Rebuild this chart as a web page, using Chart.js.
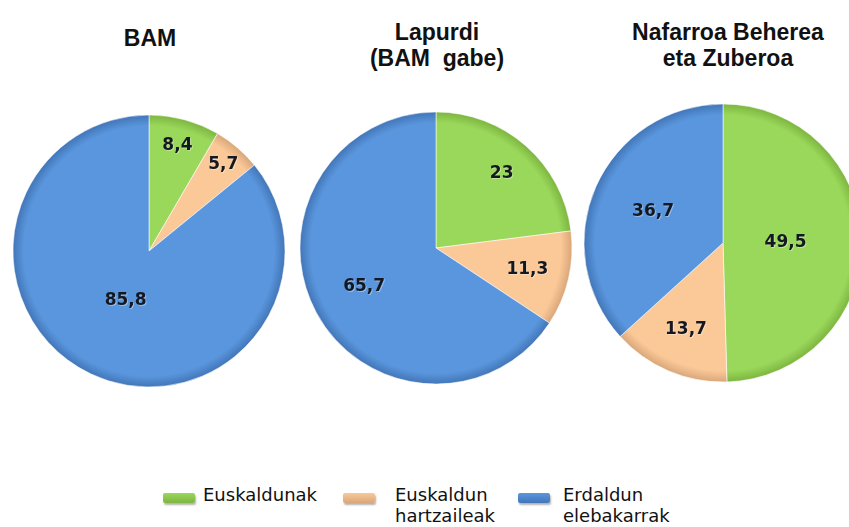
<!DOCTYPE html>
<html>
<head>
<meta charset="utf-8">
<script src="https://cdn.jsdelivr.net/npm/chart.js@4/dist/chart.umd.min.js"></script>
<style>
    html, body { margin: 0; padding: 0; background: #fff; }
    body { width: 849px; height: 527px; position: relative; overflow: hidden; }
    .pie { position: absolute; width: 300px; height: 300px; }
    .title {
        position: absolute; width: 280px; text-align: center;
        font: bold 23px 'Liberation Sans', Arial, sans-serif; line-height: 26px; color: #111;
    }
    .leg-item { position: absolute; top: 484px; font: 18px 'DejaVu Sans', Verdana, sans-serif; line-height: 21px; color: #111; }
    .leg-sw { position: absolute; top: 9px; width: 32px; height: 10px; border-radius: 2px; box-shadow: 1px 2px 2px rgba(0,0,0,0.3); }
</style>
</head>
<body>

<div class="title" style="left:10px; top:25px;">BAM</div>
<div class="title" style="left:297px; top:19px;">Lapurdi<br>(BAM&nbsp; gabe)</div>
<div class="title" style="left:588px; top:19px;">Nafarroa Beherea<br>eta Zuberoa</div>

<canvas id="pie1" class="pie"></canvas>
<canvas id="pie2" class="pie"></canvas>
<canvas id="pie3" class="pie"></canvas>

<div id="legend"></div>

<script>
// Kategoriak eta balioak
const categories = ['Euskaldunak', ['Euskaldun', 'hartzaileak'], ['Erdaldun', 'elebakarrak']];
const bamValues = [8.4, 5.7, 85.8];
const lapurdiValues = [23, 11.3, 65.7];
const nafarroaValues = [49.5, 13.7, 36.7];

// Koloreak (oinarria eta ertza)
const baseColors = ['#9AD85B', '#FBC998', '#5A96DD'];
const edgeColors = ['#7DB540', '#D9A679', '#4276B8'];

// Pastel bakoitzaren kokapena
const pies = [
    { id: 'pie1', values: bamValues, cx: 149, cy: 251, r: 136, labelPos: [0.80, 0.84, 0.40] },
    { id: 'pie2', values: lapurdiValues, cx: 436, cy: 248, r: 136, labelPos: [0.73, 0.69, 0.60] },
    { id: 'pie3', values: nafarroaValues, cx: 723, cy: 243, r: 139, labelPos: [0.45, 0.68, 0.55] }
];

const formatValue = (v) => String(v).replace('.', ',');

// Balioak zatien gainean idazteko plugina
const sliceLabels = {
    id: 'sliceLabels',
    afterDatasetsDraw(chart, args, opts) {
        const ctx = chart.ctx;
        const meta = chart.getDatasetMeta(0);
        ctx.save();
        ctx.font = 'bold 17px "DejaVu Sans", Verdana, sans-serif';
        ctx.textAlign = 'center';
        ctx.textBaseline = 'middle';
        meta.data.forEach((arc, i) => {
            const p = arc.getProps(['x', 'y', 'startAngle', 'endAngle', 'outerRadius'], true);
            const mid = (p.startAngle + p.endAngle) / 2;
            const d = p.outerRadius * opts.pos[i];
            const x = p.x + Math.cos(mid) * d;
            const y = p.y + Math.sin(mid) * d;
            ctx.fillStyle = 'rgba(255,255,255,0.35)';
            ctx.fillText(formatValue(chart.data.datasets[0].data[i]), x + 1, y + 1);
            ctx.fillStyle = '#141820';
            ctx.fillText(formatValue(chart.data.datasets[0].data[i]), x, y);
        });
        ctx.restore();
    }
};

function sliceFill(context) {
    const i = context.dataIndex;
    const chart = context.chart;
    const area = chart.chartArea;
    if (!area) return baseColors[i];
    const cx = (area.left + area.right) / 2;
    const cy = (area.top + area.bottom) / 2;
    const r = chart.data.datasets[0].radius;
    const g = chart.ctx.createRadialGradient(cx, cy, 0, cx, cy, r);
    g.addColorStop(0, baseColors[i]);
    g.addColorStop(0.92, baseColors[i]);
    g.addColorStop(1, edgeColors[i]);
    return g;
}

pies.forEach(p => {
    const canvas = document.getElementById(p.id);
    canvas.style.left = (p.cx - 150) + 'px';
    canvas.style.top = (p.cy - 150) + 'px';
    new Chart(canvas, {
        type: 'pie',
        data: {
            labels: categories,
            datasets: [{
                data: p.values,
                radius: p.r,
                backgroundColor: sliceFill,
                borderColor: 'rgba(255,255,255,0.55)',
                borderWidth: 1
            }]
        },
        options: {
            responsive: false,
            animation: false,
            layout: { padding: 0 },
            plugins: {
                legend: { display: false },
                tooltip: { enabled: false },
                sliceLabels: { pos: p.labelPos }
            }
        },
        plugins: [sliceLabels]
    });
});

// Legenda
const legendPos = [ { sw: 163, tx: 203 }, { sw: 343, tx: 395 }, { sw: 518, tx: 563 } ];
const legend = document.getElementById('legend');
categories.forEach((cat, i) => {
    const sw = document.createElement('div');
    sw.className = 'leg-item';
    sw.style.left = legendPos[i].sw + 'px';
    sw.innerHTML = `<div class="leg-sw" style="background: linear-gradient(${baseColors[i]}, ${edgeColors[i]});"></div>`;
    legend.appendChild(sw);

    const tx = document.createElement('div');
    tx.className = 'leg-item';
    tx.style.left = legendPos[i].tx + 'px';
    tx.innerHTML = [].concat(cat).join('<br>');
    legend.appendChild(tx);
});
</script>
</body>
</html>
